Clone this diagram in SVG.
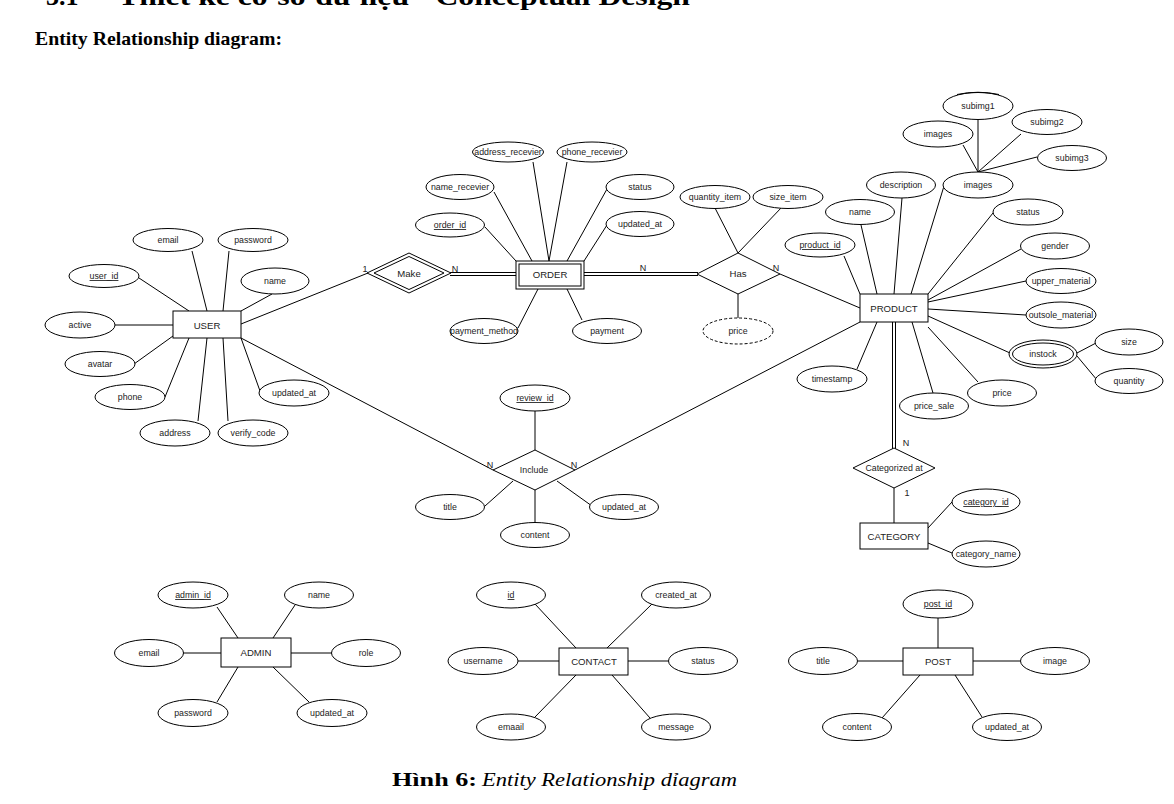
<svg xmlns="http://www.w3.org/2000/svg" width="1174" height="804" viewBox="0 0 1174 804">
<style>
.bg{fill:#fff}
.ent{fill:#fff;stroke:#000;stroke-width:1}
.attr{fill:#fff;stroke:#000;stroke-width:1}
.dash{stroke-dasharray:3,2}
.rel{fill:#fff;stroke:#000;stroke-width:1}
.ln{stroke:#000;stroke-width:1;fill:none}
.t{font-family:"Liberation Sans",Arial,sans-serif;font-size:8.8px;fill:#222;text-anchor:middle}
.e{font-family:"Liberation Sans",Arial,sans-serif;font-size:9.6px;fill:#222;text-anchor:middle}
.c{font-family:"Liberation Sans",Arial,sans-serif;font-size:9px;fill:#222;text-anchor:middle}
.k{text-decoration:underline}
.h{font-family:"Liberation Serif","Times New Roman",serif;font-weight:bold;fill:#000}
</style>
<rect class="bg" x="0" y="0" width="1174" height="804"/>
<g id="header">
<text class="h" x="46" y="5" font-size="26">3.1</text>
<text class="h" x="118" y="5" font-size="26" textLength="572" lengthAdjust="spacingAndGlyphs">Thiết kế cơ sở dữ liệu - Conceptual Design</text>
<text class="h" x="35" y="45" font-size="19" textLength="247" lengthAdjust="spacingAndGlyphs">Entity Relationship diagram:</text>
</g>
<g id="connectors">
<line class="ln" x1="192" y1="251" x2="207" y2="311"/>
<line class="ln" x1="229" y1="251" x2="223" y2="311"/>
<line class="ln" x1="139" y1="278" x2="189" y2="311"/>
<line class="ln" x1="272" y1="294" x2="241" y2="311"/>
<line class="ln" x1="115" y1="325" x2="173" y2="325"/>
<line class="ln" x1="134" y1="364" x2="173" y2="336"/>
<line class="ln" x1="165" y1="397" x2="189" y2="338"/>
<line class="ln" x1="198" y1="421" x2="207" y2="338"/>
<line class="ln" x1="228" y1="421" x2="223" y2="338"/>
<line class="ln" x1="260" y1="391" x2="241" y2="338"/>
<line class="ln" x1="241" y1="324" x2="368" y2="273"/>
<line class="ln" x1="241" y1="338" x2="493" y2="470"/>
<line class="ln" x1="450" y1="272.5" x2="516" y2="272.5"/>
<line class="ln" x1="450" y1="275.5" x2="516" y2="275.5"/>
<line class="ln" x1="485" y1="227" x2="516" y2="261"/>
<line class="ln" x1="494" y1="192" x2="532" y2="261"/>
<line class="ln" x1="533" y1="162" x2="549" y2="261"/>
<line class="ln" x1="567" y1="162" x2="549" y2="261"/>
<line class="ln" x1="607" y1="189" x2="567" y2="261"/>
<line class="ln" x1="607" y1="225" x2="584" y2="261"/>
<line class="ln" x1="518" y1="328" x2="538" y2="289"/>
<line class="ln" x1="582" y1="320" x2="567" y2="289"/>
<line class="ln" x1="584" y1="272.5" x2="698" y2="272.5"/>
<line class="ln" x1="584" y1="275.5" x2="698" y2="275.5"/>
<line class="ln" x1="715" y1="208" x2="738" y2="253"/>
<line class="ln" x1="782" y1="207" x2="738" y2="253"/>
<line class="ln" x1="738" y1="294" x2="738" y2="318"/>
<line class="ln" x1="780" y1="274" x2="860" y2="308"/>
<line class="ln" x1="844" y1="256" x2="860" y2="294"/>
<line class="ln" x1="861" y1="225" x2="877" y2="294"/>
<line class="ln" x1="902" y1="198" x2="894" y2="294"/>
<line class="ln" x1="944" y1="186" x2="911" y2="294"/>
<line class="ln" x1="993" y1="213" x2="928" y2="294"/>
<line class="ln" x1="1021" y1="249" x2="928" y2="300"/>
<line class="ln" x1="1026" y1="281" x2="928" y2="302"/>
<line class="ln" x1="1026" y1="315" x2="928" y2="309"/>
<line class="ln" x1="928" y1="316" x2="1010" y2="353"/>
<line class="ln" x1="928" y1="327" x2="978" y2="382"/>
<line class="ln" x1="912" y1="322" x2="933" y2="393"/>
<line class="ln" x1="877" y1="322" x2="857" y2="369"/>
<line class="ln" x1="892.5" y1="322" x2="892.5" y2="449"/>
<line class="ln" x1="895.5" y1="322" x2="895.5" y2="449"/>
<line class="ln" x1="894" y1="488" x2="894" y2="523"/>
<line class="ln" x1="928" y1="528" x2="952" y2="502"/>
<line class="ln" x1="928" y1="543" x2="952" y2="553"/>
<line class="ln" x1="1077" y1="353" x2="1096" y2="343"/>
<line class="ln" x1="1077" y1="356" x2="1097" y2="380"/>
<line class="ln" x1="978" y1="172" x2="978" y2="120" stroke-width="1.6"/>
<line class="ln" x1="963" y1="145" x2="978" y2="172"/>
<line class="ln" x1="1021" y1="134" x2="978" y2="172"/>
<line class="ln" x1="1037" y1="157" x2="978" y2="172"/>
<line class="ln" x1="860" y1="322" x2="575" y2="470"/>
<line class="ln" x1="535" y1="411" x2="535" y2="450"/>
<line class="ln" x1="485" y1="506" x2="513" y2="481"/>
<line class="ln" x1="535" y1="490" x2="535" y2="523"/>
<line class="ln" x1="592" y1="506" x2="557" y2="481"/>
<line class="ln" x1="217" y1="607" x2="238" y2="638"/>
<line class="ln" x1="295" y1="605" x2="273" y2="638"/>
<line class="ln" x1="183" y1="653" x2="221" y2="653"/>
<line class="ln" x1="291" y1="653" x2="332" y2="653"/>
<line class="ln" x1="217" y1="702" x2="238" y2="667"/>
<line class="ln" x1="273" y1="667" x2="309" y2="702"/>
<line class="ln" x1="535" y1="604" x2="576" y2="648"/>
<line class="ln" x1="652" y1="604" x2="607" y2="648"/>
<line class="ln" x1="518" y1="661" x2="559" y2="661"/>
<line class="ln" x1="628" y1="661" x2="668" y2="661"/>
<line class="ln" x1="535" y1="717" x2="576" y2="675"/>
<line class="ln" x1="612" y1="675" x2="650" y2="718"/>
<line class="ln" x1="938" y1="618" x2="938" y2="648"/>
<line class="ln" x1="858" y1="661" x2="903" y2="661"/>
<line class="ln" x1="973" y1="661" x2="1020" y2="661"/>
<line class="ln" x1="882" y1="718" x2="920" y2="675"/>
<line class="ln" x1="955" y1="675" x2="982" y2="717"/>
<text class="c" x="365" y="272">1</text>
<text class="c" x="455" y="272">N</text>
<text class="c" x="643" y="271">N</text>
<text class="c" x="776" y="271">N</text>
<text class="c" x="906" y="446">N</text>
<text class="c" x="907" y="496">1</text>
<text class="c" x="490" y="468">N</text>
<text class="c" x="574" y="468">N</text>
</g>
<g id="user">
<rect class="ent" x="173" y="311" width="68" height="27"/>
<text class="e" x="207" y="328.5" font-size="10.5">USER</text>
</g>
<g id="user_attrs">
<ellipse class="attr" cx="168" cy="240" rx="35" ry="11.5"/><text class="t" x="168" y="243">email</text>
<ellipse class="attr" cx="253" cy="240" rx="35" ry="11.5"/><text class="t" x="253" y="243">password</text>
<ellipse class="attr" cx="104" cy="276" rx="35" ry="11.5"/><text class="t k" x="104" y="279">user_id</text>
<ellipse class="attr" cx="275" cy="281" rx="34" ry="13"/><text class="t" x="275" y="284">name</text>
<ellipse class="attr" cx="80" cy="325" rx="35" ry="13"/><text class="t" x="80" y="328">active</text>
<ellipse class="attr" cx="100" cy="364" rx="35" ry="12.5"/><text class="t" x="100" y="367">avatar</text>
<ellipse class="attr" cx="130" cy="397" rx="35" ry="12.5"/><text class="t" x="130" y="400">phone</text>
<ellipse class="attr" cx="175" cy="433" rx="35" ry="13"/><text class="t" x="175" y="436">address</text>
<ellipse class="attr" cx="253" cy="433" rx="35" ry="13"/><text class="t" x="253" y="436">verify_code</text>
<ellipse class="attr" cx="294" cy="393" rx="35" ry="13"/><text class="t" x="294" y="396">updated_at</text>
</g>
<g id="make">
<polygon class="rel" points="367,273 409,253 451,273 409,293"/>
<polygon class="rel" points="374,273 409,256.5 444,273 409,289.5"/>
<text class="e" x="409" y="276.5">Make</text>
</g>
<g id="order">
<rect class="ent" x="516" y="261" width="68" height="28"/>
<rect class="ent" x="519" y="264" width="62" height="22"/>
<text class="e" x="550" y="278">ORDER</text>
</g>
<g id="order_attrs">
<ellipse class="attr" cx="508" cy="152" rx="35.5" ry="10"/><text class="t" x="508" y="155">address_recevier</text>
<ellipse class="attr" cx="592" cy="152" rx="35" ry="10"/><text class="t" x="592" y="155">phone_recevier</text>
<ellipse class="attr" cx="460" cy="187" rx="34" ry="12.5"/><text class="t" x="460" y="190">name_recevier</text>
<ellipse class="attr" cx="640" cy="187" rx="34" ry="12.5"/><text class="t" x="640" y="190">status</text>
<ellipse class="attr" cx="450" cy="225" rx="34.5" ry="12"/><text class="t k" x="450" y="228">order_id</text>
<ellipse class="attr" cx="640" cy="224" rx="34" ry="12.5"/><text class="t" x="640" y="227">updated_at</text>
<ellipse class="attr" cx="484" cy="331" rx="34" ry="12.5"/><text class="t" x="484" y="334">payment_method</text>
<ellipse class="attr" cx="607" cy="331" rx="34.5" ry="12.5"/><text class="t" x="607" y="334">payment</text>
</g>
<g id="has">
<polygon class="rel" points="697,274 738,253 780,274 738,294"/>
<text class="e" x="738" y="277">Has</text>
</g>
<g id="has_attrs">
<ellipse class="attr" cx="715" cy="197" rx="35" ry="11.5"/><text class="t" x="715" y="200">quantity_item</text>
<ellipse class="attr" cx="788" cy="197" rx="35" ry="11.5"/><text class="t" x="788" y="200">size_item</text>
<ellipse class="attr dash" cx="738" cy="331" rx="35" ry="13"/><text class="t" x="738" y="334">price</text>
</g>
<g id="product">
<rect class="ent" x="860" y="294" width="68" height="28"/>
<text class="e" x="894" y="311.5">PRODUCT</text>
</g>
<g id="product_attrs">
<ellipse class="attr" cx="820" cy="245" rx="35" ry="12"/><text class="t k" x="820" y="248">product_id</text>
<ellipse class="attr" cx="860" cy="212" rx="34.5" ry="12.5"/><text class="t" x="860" y="215">name</text>
<ellipse class="attr" cx="901" cy="185" rx="34.5" ry="13"/><text class="t" x="901" y="188">description</text>
<ellipse class="attr" cx="978" cy="185" rx="35" ry="13"/><text class="t" x="978" y="188">images</text>
<ellipse class="attr" cx="1028" cy="212" rx="35" ry="13"/><text class="t" x="1028" y="215">status</text>
<ellipse class="attr" cx="1055" cy="246" rx="34.5" ry="13"/><text class="t" x="1055" y="249">gender</text>
<ellipse class="attr" cx="1061" cy="281" rx="35" ry="12.5"/><text class="t" x="1061" y="284">upper_material</text>
<ellipse class="attr" cx="1061" cy="315" rx="35" ry="13"/><text class="t" x="1061" y="318">outsole_material</text>
<ellipse class="attr" cx="938" cy="134" rx="35" ry="13"/><text class="t" x="938" y="137">images</text>
<ellipse class="attr" cx="978" cy="106" rx="35" ry="13.5"/><text class="t" x="978" y="109">subimg1</text>
<path class="ln" d="M957 94.5 Q978 90 999 94.5" stroke-width="2"/>
<ellipse class="attr" cx="1047" cy="122" rx="35" ry="12.5"/><text class="t" x="1047" y="125">subimg2</text>
<ellipse class="attr" cx="1072" cy="158" rx="34.5" ry="12.5"/><text class="t" x="1072" y="161">subimg3</text>
<ellipse class="attr" cx="1043" cy="354" rx="34" ry="14"/>
<ellipse class="attr" cx="1043" cy="354" rx="30.5" ry="11"/>
<text class="t" x="1043" y="357">instock</text>
<ellipse class="attr" cx="1129" cy="342" rx="34" ry="13"/><text class="t" x="1129" y="345">size</text>
<ellipse class="attr" cx="1129" cy="381" rx="34" ry="12.5"/><text class="t" x="1129" y="384">quantity</text>
<ellipse class="attr" cx="832" cy="379" rx="35" ry="13"/><text class="t" x="832" y="382">timestamp</text>
<ellipse class="attr" cx="934" cy="406" rx="34.5" ry="13"/><text class="t" x="934" y="409">price_sale</text>
<ellipse class="attr" cx="1002" cy="393" rx="34.5" ry="13"/><text class="t" x="1002" y="396">price</text>
</g>
<g id="categorized_at">
<polygon class="rel" points="853,468 894,448 935,468 894,488"/>
<text class="t" x="894" y="471">Categorized at</text>
</g>
<g id="category">
<rect class="ent" x="860" y="523" width="68" height="26"/>
<text class="e" x="894" y="539.5">CATEGORY</text>
<ellipse class="attr" cx="986" cy="502" rx="34" ry="13"/><text class="t k" x="986" y="505">category_id</text>
<ellipse class="attr" cx="986" cy="554" rx="34" ry="13"/><text class="t" x="986" y="557">category_name</text>
</g>
<g id="include">
<polygon class="rel" points="493,470 535,450 575,470 535,490"/>
<text class="t" x="534" y="473">Include</text>
<ellipse class="attr" cx="535" cy="398" rx="35" ry="13"/><text class="t k" x="535" y="401">review_id</text>
<ellipse class="attr" cx="450" cy="507" rx="34.5" ry="12.5"/><text class="t" x="450" y="510">title</text>
<ellipse class="attr" cx="535" cy="535" rx="34.5" ry="12.5"/><text class="t" x="535" y="538">content</text>
<ellipse class="attr" cx="624" cy="507" rx="34.5" ry="12.5"/><text class="t" x="624" y="510">updated_at</text>
</g>
<g id="admin">
<rect class="ent" x="221" y="638" width="70" height="29"/>
<text class="e" x="256" y="656">ADMIN</text>
<ellipse class="attr" cx="193" cy="595" rx="35" ry="13"/><text class="t k" x="193" y="598">admin_id</text>
<ellipse class="attr" cx="319" cy="595" rx="34.5" ry="13"/><text class="t" x="319" y="598">name</text>
<ellipse class="attr" cx="149" cy="653" rx="34.5" ry="13.5"/><text class="t" x="149" y="656">email</text>
<ellipse class="attr" cx="366" cy="653" rx="34.5" ry="13.5"/><text class="t" x="366" y="656">role</text>
<ellipse class="attr" cx="193" cy="713" rx="35" ry="13.5"/><text class="t" x="193" y="716">password</text>
<ellipse class="attr" cx="332" cy="713" rx="35" ry="13.5"/><text class="t" x="332" y="716">updated_at</text>
</g>
<g id="contact">
<rect class="ent" x="559" y="648" width="69" height="27"/>
<text class="e" x="594" y="665">CONTACT</text>
<ellipse class="attr" cx="511" cy="595" rx="34.5" ry="13"/><text class="t k" x="511" y="598">id</text>
<ellipse class="attr" cx="676" cy="595" rx="34.5" ry="13"/><text class="t" x="676" y="598">created_at</text>
<ellipse class="attr" cx="483" cy="661" rx="35" ry="13.5"/><text class="t" x="483" y="664">username</text>
<ellipse class="attr" cx="703" cy="661" rx="34.5" ry="13.5"/><text class="t" x="703" y="664">status</text>
<ellipse class="attr" cx="511" cy="727" rx="34.5" ry="13"/><text class="t" x="511" y="730">emaail</text>
<ellipse class="attr" cx="676" cy="727" rx="34.5" ry="13"/><text class="t" x="676" y="730">message</text>
</g>
<g id="post">
<rect class="ent" x="903" y="648" width="70" height="27"/>
<text class="e" x="938" y="665">POST</text>
<ellipse class="attr" cx="938" cy="604" rx="35" ry="14"/><text class="t k" x="938" y="607">post_id</text>
<ellipse class="attr" cx="823" cy="661" rx="34.5" ry="13.5"/><text class="t" x="823" y="664">title</text>
<ellipse class="attr" cx="1055" cy="661" rx="34.5" ry="13.5"/><text class="t" x="1055" y="664">image</text>
<ellipse class="attr" cx="857" cy="727" rx="34.5" ry="13.5"/><text class="t" x="857" y="730">content</text>
<ellipse class="attr" cx="1007" cy="727" rx="34.5" ry="13.5"/><text class="t" x="1007" y="730">updated_at</text>
</g>
<g id="caption">
<text class="h" x="392" y="786" font-size="18" textLength="85" lengthAdjust="spacingAndGlyphs">Hình 6:</text>
<text x="482" y="786" font-family="'Liberation Serif','Times New Roman',serif" font-style="italic" font-size="18" fill="#000" textLength="255" lengthAdjust="spacingAndGlyphs">Entity Relationship dỉagram</text>
</g>
</svg>
